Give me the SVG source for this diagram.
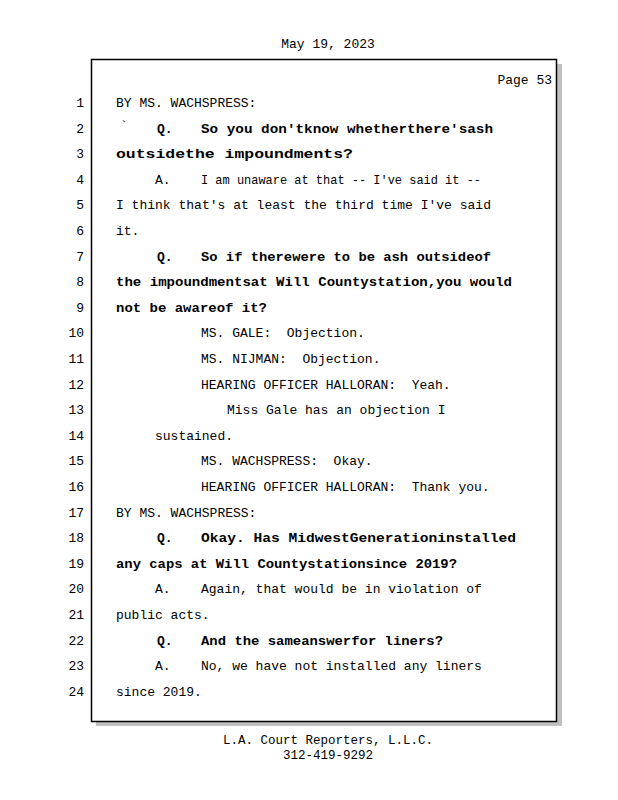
<svg xmlns="http://www.w3.org/2000/svg" width="618" height="800" viewBox="0 0 618 800" xml:space="preserve">
<style>
text{white-space:pre}
.t{font-family:"Liberation Mono","Courier New",monospace;font-size:13px;fill:#000}
.b{font-family:"Liberation Mono","Courier New",monospace;font-size:13px;font-weight:bold;fill:#000}
.n{font-family:"Liberation Mono","Courier New",monospace;font-size:13px;fill:#000;text-anchor:end}
.c{font-family:"Liberation Mono","Courier New",monospace;font-size:12.5px;fill:#000;text-anchor:middle}
</style>
<rect width="618" height="800" fill="#fff"/>
<g id="header"><text class="c" x="328" y="48" style="font-size:13px">May 19, 2023</text></g>
<g id="page">
<rect x="96" y="64" width="466" height="662" fill="#c0c0c0"/>
<rect x="91.5" y="59.5" width="465" height="662" fill="#fff" stroke="#000" stroke-width="1.5"/>
<text class="n" x="552" y="84">Page 53</text>
</g>
<g id="numbers">
<text class="n" x="84" y="107">1</text>
<text class="n" x="84" y="132.6">2</text>
<text class="n" x="84" y="158.2">3</text>
<text class="n" x="84" y="183.8">4</text>
<text class="n" x="84" y="209.4">5</text>
<text class="n" x="84" y="235">6</text>
<text class="n" x="84" y="260.6">7</text>
<text class="n" x="84" y="286.2">8</text>
<text class="n" x="84" y="311.8">9</text>
<text class="n" x="84" y="337.4">10</text>
<text class="n" x="84" y="363">11</text>
<text class="n" x="84" y="388.6">12</text>
<text class="n" x="84" y="414.2">13</text>
<text class="n" x="84" y="439.8">14</text>
<text class="n" x="84" y="465.4">15</text>
<text class="n" x="84" y="491">16</text>
<text class="n" x="84" y="516.6">17</text>
<text class="n" x="84" y="542.2">18</text>
<text class="n" x="84" y="567.8">19</text>
<text class="n" x="84" y="593.4">20</text>
<text class="n" x="84" y="619">21</text>
<text class="n" x="84" y="644.6">22</text>
<text class="n" x="84" y="670.2">23</text>
<text class="n" x="84" y="695.8">24</text>
</g>
<g id="lines">
<text class="t" x="116" y="107">BY MS. WACHSPRESS:</text>
<text class="t" x="120" y="130">`</text>
<text class="b" x="157" y="132.6">Q.</text>
<text class="b" x="201" y="132.6" textLength="292" lengthAdjust="spacingAndGlyphs">So you don'tknow whetherthere'sash</text>
<text class="b" x="116" y="158.2" textLength="237" lengthAdjust="spacingAndGlyphs">outsidethe impoundments?</text>
<text class="t" x="155" y="183.8">A.</text>
<text class="t" x="201" y="183.8" textLength="280" lengthAdjust="spacingAndGlyphs">I am unaware at that -- I've said it --</text>
<text class="t" x="116" y="209.4" textLength="375" lengthAdjust="spacingAndGlyphs">I think that's at least the third time I've said</text>
<text class="t" x="116" y="235">it.</text>
<text class="b" x="157" y="260.6">Q.</text>
<text class="b" x="201" y="260.6" textLength="290" lengthAdjust="spacingAndGlyphs">So if therewere to be ash outsideof</text>
<text class="b" x="116" y="286.2" textLength="396" lengthAdjust="spacingAndGlyphs">the impoundmentsat Will Countystation,you would</text>
<text class="b" x="116" y="311.8" textLength="151" lengthAdjust="spacingAndGlyphs">not be awareof it?</text>
<text class="t" x="201" y="337.4">MS. GALE:  Objection.</text>
<text class="t" x="201" y="363">MS. NIJMAN:  Objection.</text>
<text class="t" x="201" y="388.6">HEARING OFFICER HALLORAN:  Yeah.</text>
<text class="t" x="227" y="414.2">Miss Gale has an objection I</text>
<text class="t" x="155" y="439.8">sustained.</text>
<text class="t" x="201" y="465.4">MS. WACHSPRESS:  Okay.</text>
<text class="t" x="201" y="491">HEARING OFFICER HALLORAN:  Thank you.</text>
<text class="t" x="116" y="516.6">BY MS. WACHSPRESS:</text>
<text class="b" x="157" y="542.2">Q.</text>
<text class="b" x="201" y="542.2" textLength="315" lengthAdjust="spacingAndGlyphs">Okay. Has MidwestGenerationinstalled</text>
<text class="b" x="116" y="567.8" textLength="341" lengthAdjust="spacingAndGlyphs">any caps at Will Countystationsince 2019?</text>
<text class="t" x="155" y="593.4">A.</text>
<text class="t" x="201" y="593.4">Again, that would be in violation of</text>
<text class="t" x="116" y="619">public acts.</text>
<text class="b" x="157" y="644.6">Q.</text>
<text class="b" x="201" y="644.6" textLength="242" lengthAdjust="spacingAndGlyphs">And the sameanswerfor liners?</text>
<text class="t" x="155" y="670.2">A.</text>
<text class="t" x="201" y="670.2">No, we have not installed any liners</text>
<text class="t" x="116" y="695.8">since 2019.</text>
</g>
<g id="footer">
<text class="c" x="328" y="744">L.A. Court Reporters, L.L.C.</text>
<text class="c" x="328" y="758.5">312-419-9292</text>
</g>
</svg>
